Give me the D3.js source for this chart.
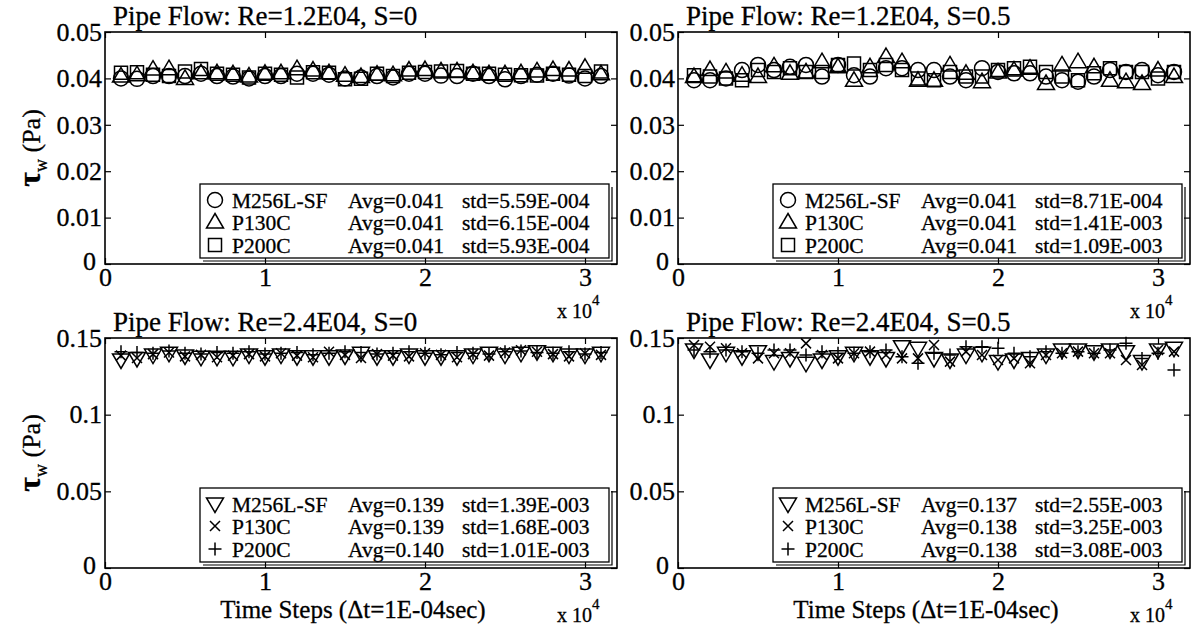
<!DOCTYPE html>
<html>
<head>
<meta charset="utf-8">
<script src="https://cdn.jsdelivr.net/npm/d3@7"></script>
<style>
body{margin:0;background:#fff;}
text{font-family:"Liberation Serif","Times New Roman",serif;fill:#000;stroke:#000;stroke-width:0.3px;}
</style>
</head>
<body>
<svg id="chart" width="1202" height="636"></svg>
<script>
// time steps (x)
var steps = [1000,2000,3000,4000,5000,6000,7000,8000,9000,10000,11000,12000,13000,14000,15000,16000,
             17000,18000,19000,20000,21000,22000,23000,24000,25000,26000,27000,28000,29000,30000,31000];

var xTicks = [0,10000,20000,30000];
var yTicksLow = [0,0.01,0.02,0.03,0.04,0.05];
var yTicksHigh = [0,0.05,0.1,0.15];

var titles = ["Pipe Flow: Re=1.2E04, S=0","Pipe Flow: Re=1.2E04, S=0.5",
              "Pipe Flow: Re=2.4E04, S=0","Pipe Flow: Re=2.4E04, S=0.5"];
var names = ["M256L-SF","P130C","P200C"];

// Re=1.2E04, S=0
var a_M256 = [0.0400,0.0399,0.0405,0.0405,0.0405,0.0410,0.0405,0.0404,0.0400,0.0405,0.0405,0.0410,0.0410,0.0408,0.0400,0.0402,
              0.0405,0.0402,0.0410,0.0410,0.0406,0.0405,0.0410,0.0405,0.0398,0.0405,0.0408,0.0410,0.0406,0.0400,0.0405];
var a_P130 = [0.0405,0.0408,0.0420,0.0421,0.0400,0.0412,0.0412,0.0410,0.0405,0.0411,0.0412,0.0421,0.0418,0.0412,0.0407,0.0404,
              0.0409,0.0408,0.0418,0.0419,0.0416,0.0416,0.0412,0.0410,0.0410,0.0412,0.0416,0.0419,0.0418,0.0424,0.0410];
var a_P200 = [0.0412,0.0413,0.0408,0.0405,0.0415,0.0420,0.0410,0.0408,0.0402,0.0410,0.0408,0.0402,0.0413,0.0412,0.0398,0.0399,
              0.0410,0.0405,0.0412,0.0414,0.0415,0.0416,0.0410,0.0410,0.0408,0.0407,0.0406,0.0410,0.0408,0.0405,0.0415];
var a_avg = ["Avg=0.041","Avg=0.041","Avg=0.041"];
var a_std = ["std=5.59E-004","std=6.15E-004","std=5.93E-004"];

// Re=1.2E04, S=0.5
var b_M256 = [0.0396,0.0396,0.0400,0.0418,0.0429,0.0418,0.0425,0.0429,0.0404,0.0429,0.0407,0.0404,0.0422,0.0422,0.0418,0.0418,
              0.0404,0.0396,0.0422,0.0414,0.0411,0.0411,0.0404,0.0396,0.0393,0.0404,0.0418,0.0414,0.0418,0.0407,0.0414];
var b_P130 = [0.0404,0.0419,0.0414,0.0407,0.0404,0.0427,0.0411,0.0414,0.0436,0.0425,0.0396,0.0425,0.0447,0.0436,0.0396,0.0396,
              0.0429,0.0411,0.0393,0.0414,0.0418,0.0422,0.0389,0.0429,0.0436,0.0425,0.0396,0.0393,0.0389,0.0418,0.0404];
var b_P200 = [0.0407,0.0404,0.0400,0.0396,0.0418,0.0414,0.0422,0.0414,0.0414,0.0429,0.0432,0.0418,0.0429,0.0418,0.0400,0.0396,
              0.0414,0.0404,0.0404,0.0418,0.0422,0.0425,0.0414,0.0404,0.0396,0.0411,0.0422,0.0414,0.0414,0.0400,0.0414];
var b_avg = ["Avg=0.041","Avg=0.041","Avg=0.041"];
var b_std = ["std=8.71E-004","std=1.41E-003","std=1.09E-003"];

// Re=2.4E04, S=0
var c_M256 = [0.1357,0.1367,0.1389,0.1400,0.1383,0.1374,0.1374,0.1374,0.1389,0.1378,0.1389,0.1378,0.1378,0.1378,0.1383,0.1400,
              0.1378,0.1378,0.1389,0.1378,0.1378,0.1378,0.1389,0.1400,0.1389,0.1400,0.1411,0.1400,0.1389,0.1389,0.1400];
var c_P130 = [0.1385,0.1370,0.1395,0.1405,0.1380,0.1390,0.1375,0.1385,0.1395,0.1380,0.1400,0.1385,0.1375,0.1410,0.1390,0.1370,
              0.1395,0.1385,0.1380,0.1400,0.1390,0.1375,0.1395,0.1385,0.1405,0.1420,0.1410,0.1395,0.1380,0.1400,0.1390];
var c_P200 = [0.1410,0.1405,0.1400,0.1415,0.1400,0.1395,0.1405,0.1400,0.1410,0.1395,0.1400,0.1405,0.1390,0.1400,0.1410,0.1405,
              0.1395,0.1400,0.1410,0.1400,0.1390,0.1405,0.1400,0.1395,0.1410,0.1415,0.1405,0.1400,0.1410,0.1395,0.1405];
var c_avg = ["Avg=0.139","Avg=0.139","Avg=0.140"];
var c_std = ["std=1.39E-003","std=1.68E-003","std=1.01E-003"];

// Re=2.4E04, S=0.5
var d_M256 = [0.1422,0.1357,0.1400,0.1378,0.1411,0.1346,0.1367,0.1335,0.1357,0.1378,0.1400,0.1378,0.1367,0.1443,0.1433,0.1367,
              0.1357,0.1389,0.1400,0.1346,0.1357,0.1367,0.1389,0.1422,0.1422,0.1411,0.1422,0.1411,0.1346,0.1422,0.1433];
var d_P130 = [0.1454,0.1443,0.1433,0.1400,0.1367,0.1400,0.1400,0.1465,0.1389,0.1367,0.1400,0.1411,0.1389,0.1367,0.1367,0.1454,
              0.1346,0.1411,0.1389,0.1357,0.1367,0.1335,0.1389,0.1400,0.1411,0.1400,0.1400,0.1357,0.1324,0.1422,0.1411];
var d_P200 = [0.1422,0.1411,0.1422,0.1411,0.1400,0.1422,0.1422,0.1389,0.1411,0.1400,0.1400,0.1411,0.1422,0.1378,0.1335,0.1400,
              0.1389,0.1443,0.1443,0.1433,0.1400,0.1378,0.1411,0.1400,0.1411,0.1400,0.1422,0.1465,0.1367,0.1400,0.1291];
var d_avg = ["Avg=0.137","Avg=0.138","Avg=0.138"];
var d_std = ["std=2.55E-003","std=3.25E-003","std=3.08E-003"];

var svg = d3.select("#chart");

// marker shapes, drawn as outlines like matlab
function markerPath(type){
    switch(type){
        case "circle": return "M7.5,0A7.5,7.5 0 1,1 -7.5,0A7.5,7.5 0 1,1 7.5,0Z";
        case "up": return "M0,-8.5L8.5,6L-8.5,6Z";
        case "square": return "M-6.5,-6.5H6.5V6.5H-6.5Z";
        case "down": return "M-8.5,-6L8.5,-6L0,8.5Z";
        case "x": return "M-5,-5L5,5M-5,5L5,-5";
        case "plus": return "M-6.5,0H6.5M0,-6.5V6.5";
    }
}

var panels = [
    {x0:105, x1:617, y0:32, y1:264, ymax:0.05, yt:yTicksLow, title:titles[0], series:[a_M256,a_P130,a_P200], mk:["circle","up","square"], avg:a_avg, std:a_std, ylab:true, xlab:false},
    {x0:678, x1:1190, y0:32, y1:264, ymax:0.05, yt:yTicksLow, title:titles[1], series:[b_M256,b_P130,b_P200], mk:["circle","up","square"], avg:b_avg, std:b_std, ylab:false, xlab:false},
    {x0:105, x1:617, y0:338, y1:568, ymax:0.15, yt:yTicksHigh, title:titles[2], series:[c_M256,c_P130,c_P200], mk:["down","x","plus"], avg:c_avg, std:c_std, ylab:true, xlab:true},
    {x0:678, x1:1190, y0:338, y1:568, ymax:0.15, yt:yTicksHigh, title:titles[3], series:[d_M256,d_P130,d_P200], mk:["down","x","plus"], avg:d_avg, std:d_std, ylab:false, xlab:true}
];

panels.forEach(function(p){
    var x = d3.scaleLinear().domain([0,32000]).range([p.x0,p.x1]);
    var y = d3.scaleLinear().domain([0,p.ymax]).range([p.y1,p.y0]);
    var g = svg.append("g");

    var yfmt = function(d){ return String(+d.toFixed(2)); };

    // axes, ticks pointing inside
    g.append("g").attr("transform","translate(0,"+p.y1+")")
        .call(d3.axisBottom(x).tickValues(xTicks).tickFormat(function(d){return d/1e4;})
              .tickSizeInner(-6).tickSizeOuter(0).tickPadding(4));
    g.append("g").attr("transform","translate(0,"+p.y0+")")
        .call(d3.axisTop(x).tickValues(xTicks).tickFormat("").tickSizeInner(-6).tickSizeOuter(0));
    var ya = g.append("g").attr("transform","translate("+p.x0+",0)")
        .call(d3.axisLeft(y).tickValues(p.yt).tickFormat(yfmt).tickSizeInner(-6).tickSizeOuter(0).tickPadding(3));
    g.append("g").attr("transform","translate("+p.x1+",0)")
        .call(d3.axisRight(y).tickValues(p.yt).tickFormat("").tickSizeInner(-6).tickSizeOuter(0));

    g.selectAll(".domain").remove();
    g.selectAll(".tick line").attr("stroke","#000").attr("stroke-width",1.2);
    g.selectAll(".tick text").attr("font-size",26).attr("font-family","Liberation Serif");
    // the y "0" sits up-left of the x "0", matlab style
    ya.selectAll(".tick text").filter(function(d){ return d === 0; }).attr("x",-9).attr("dy","0.2em");

    g.append("rect").attr("x",p.x0).attr("y",p.y0)
        .attr("width",p.x1-p.x0).attr("height",p.y1-p.y0)
        .attr("fill","none").attr("stroke","#000").attr("stroke-width",1.6);

    // title
    g.append("text").attr("x",p.x0+8).attr("y",p.y0-7)
        .attr("font-size",27).text(p.title);

    // x 10^4
    var ex = g.append("text").attr("x",p.x1-60).attr("y",p.y1+54).attr("font-size",20);
    ex.append("tspan").text("x 10");
    ex.append("tspan").attr("font-size",15).attr("dy",-13).text("4");

    // markers
    p.series.forEach(function(s,k){
        g.selectAll(null).data(s).enter().append("path")
            .attr("d",markerPath(p.mk[k]))
            .attr("transform",function(d,i){ return "translate("+x(steps[i])+","+y(d)+")"; })
            .attr("fill","none").attr("stroke","#000").attr("stroke-width",1.5);
    });

    // legend
    var lx0 = p.x0+95, lx1 = p.x1-8, ly0 = p.y1-80, ly1 = p.y1-6;
    g.append("rect").attr("x",lx0).attr("y",ly0).attr("width",lx1-lx0).attr("height",ly1-ly0)
        .attr("fill","#fff").attr("stroke","#000").attr("stroke-width",1.3);
    g.append("path").attr("d","M"+(lx0+3)+","+(ly1+3)+"H"+(lx1+3)+"V"+(ly0+3))
        .attr("fill","none").attr("stroke","#000").attr("stroke-width",1.2);
    var rows = [p.y1-64, p.y1-42, p.y1-19];
    names.forEach(function(n,k){
        g.append("path").attr("d",markerPath(p.mk[k]))
            .attr("transform","translate("+(lx0+15)+","+rows[k]+")")
            .attr("fill","none").attr("stroke","#000").attr("stroke-width",1.5);
        g.append("text").attr("x",lx0+32).attr("y",rows[k]).attr("dy","0.35em").attr("font-size",21.5).text(n);
        g.append("text").attr("x",lx0+148).attr("y",rows[k]).attr("dy","0.35em").attr("font-size",21.5).text(p.avg[k]);
        g.append("text").attr("x",lx0+262).attr("y",rows[k]).attr("dy","0.35em").attr("font-size",21.5).text(p.std[k]);
    });

    // axis labels
    if(p.ylab){
        var t = g.append("text").attr("text-anchor","middle")
            .attr("transform","translate(40,"+((p.y0+p.y1)/2)+") rotate(-90)");
        t.append("tspan").attr("font-size",32).attr("font-weight","bold").text("\u03C4");
        t.append("tspan").attr("font-size",18).attr("dy",7).text("w");
        t.append("tspan").attr("font-size",26).attr("dy",-7).text(" (Pa)");
    }
    if(p.xlab){
        g.append("text").attr("text-anchor","middle")
            .attr("x",(p.x0+p.x1)/2-8).attr("y",p.y1+50)
            .attr("font-size",25).text("Time Steps (\u0394t=1E-04sec)");
    }
});
</script>
</body>
</html>
